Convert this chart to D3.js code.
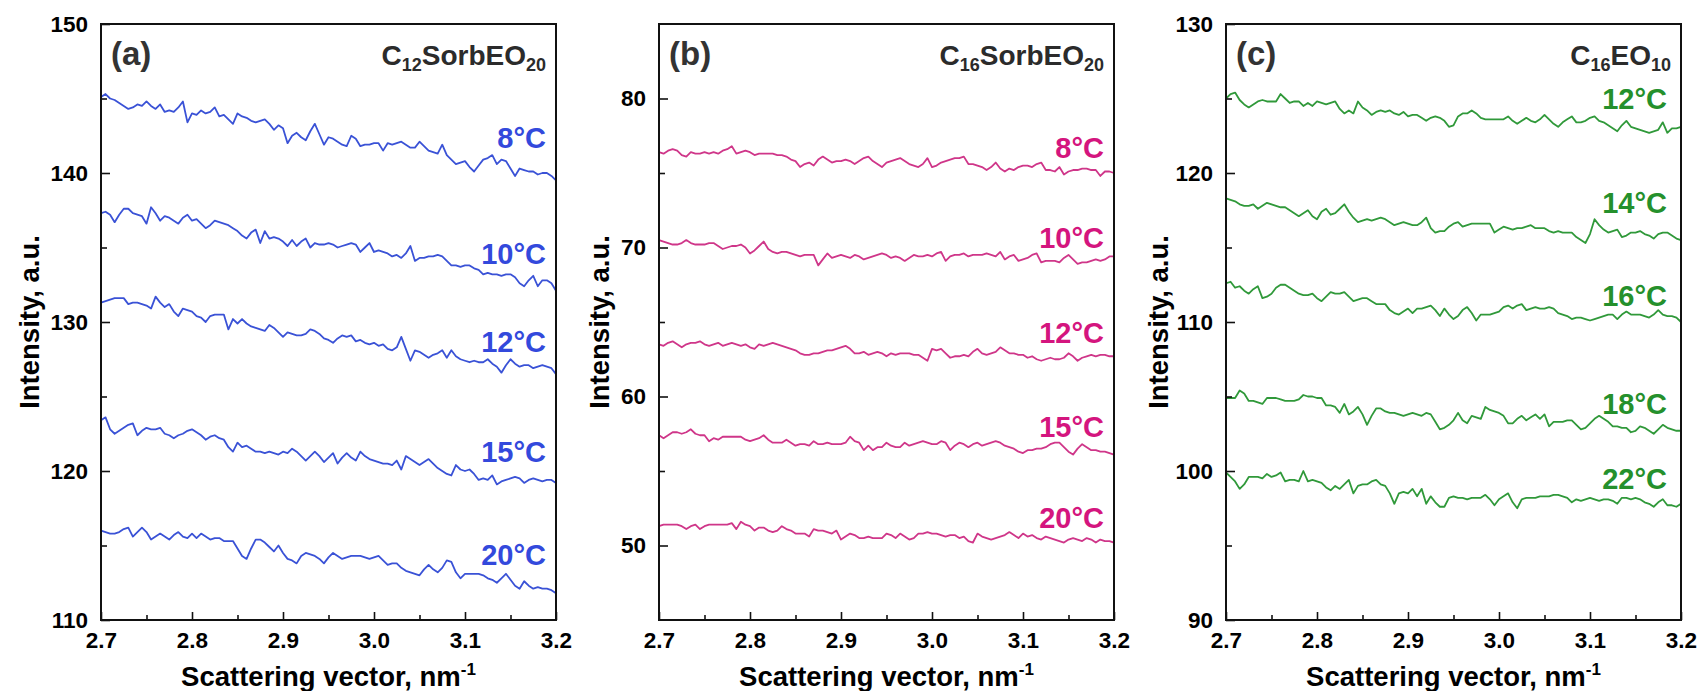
<!DOCTYPE html>
<html>
<head>
<meta charset="utf-8">
<script src="https://cdn.jsdelivr.net/npm/d3@7"></script>
<style>
  html, body { margin: 0; padding: 0; background: #fff; }
  svg text { font-family: "Liberation Sans", Arial, Helvetica, sans-serif; }
</style>
</head>
<body>
<svg id="chart" width="1701" height="691"></svg>
<script>
// Scattering vector grid, nm^-1
const scatteringVector = [
  2.700,2.705,2.710,2.715,2.720,2.725,2.730,2.735,2.740,2.745,
  2.750,2.755,2.760,2.765,2.770,2.775,2.780,2.785,2.790,2.795,
  2.800,2.805,2.810,2.815,2.820,2.825,2.830,2.835,2.840,2.845,
  2.850,2.855,2.860,2.865,2.870,2.875,2.880,2.885,2.890,2.895,
  2.900,2.905,2.910,2.915,2.920,2.925,2.930,2.935,2.940,2.945,
  2.950,2.955,2.960,2.965,2.970,2.975,2.980,2.985,2.990,2.995,
  3.000,3.005,3.010,3.015,3.020,3.025,3.030,3.035,3.040,3.045,
  3.050,3.055,3.060,3.065,3.070,3.075,3.080,3.085,3.090,3.095,
  3.100,3.105,3.110,3.115,3.120,3.125,3.130,3.135,3.140,3.145,
  3.150,3.155,3.160,3.165,3.170,3.175,3.180,3.185,3.190,3.195,
  3.200
];

// Axis ticks
const xTicks = [2.7, 2.8, 2.9, 3.0, 3.1, 3.2];
const xMinorTicks = [2.75, 2.85, 2.95, 3.05, 3.15];
const yTicksA = [110, 120, 130, 140, 150];
const yMinorA = [115, 125, 135, 145];
const yTicksB = [50, 60, 70, 80];
const yMinorB = [55, 65, 75];
const yTicksC = [90, 100, 110, 120, 130];
const yMinorC = [95, 105, 115, 125];

// (a) C12SorbEO20
const tempsA = ["8°C", "10°C", "12°C", "15°C", "20°C"];
const intensityA8 = [
  145.1,145.3,145.0,144.9,144.7,144.5,144.3,144.4,144.6,144.5,
  144.8,144.5,144.3,144.6,144.1,144.2,144.1,144.4,144.8,143.4,
  144.0,143.9,144.2,144.0,144.1,144.4,143.8,143.9,143.6,143.3,
  144.0,143.8,143.7,143.5,143.4,143.5,143.6,143.3,142.9,143.2,
  143.0,142.0,142.5,142.7,142.4,142.2,142.8,143.3,142.6,141.9,
  142.4,142.3,142.1,141.9,141.8,142.5,142.3,141.8,141.9,141.9,
  142.0,142.0,141.5,142.0,141.9,142.0,142.1,141.9,141.7,141.7,
  142.1,141.8,141.5,141.4,141.3,141.9,141.2,140.9,140.6,140.7,
  140.8,140.4,140.1,140.5,140.9,141.0,141.2,140.6,140.9,140.8,
  140.3,139.8,140.3,140.2,140.1,140.1,139.9,140.0,140.0,139.8,
  139.5
];
const intensityA10 = [
  137.3,137.4,137.2,136.7,137.2,137.6,137.6,137.3,137.2,137.1,
  136.6,137.7,137.3,136.8,137.1,137.0,136.8,136.6,137.0,137.2,
  136.8,136.9,136.6,136.3,136.5,136.8,136.7,136.6,136.5,136.3,
  136.1,135.8,135.6,136.0,136.2,135.3,136.1,135.6,135.7,135.6,
  135.4,135.1,135.5,135.1,135.4,135.6,135.0,135.3,135.2,135.2,
  135.3,135.2,135.0,135.1,135.2,135.3,135.2,134.7,135.0,135.3,
  134.7,134.8,134.7,134.6,134.4,134.5,134.3,134.6,135.1,134.1,
  134.3,134.3,134.4,134.4,134.5,134.4,134.1,133.8,133.8,133.7,
  133.8,133.8,133.6,133.5,133.2,133.3,133.2,133.2,133.1,133.2,
  133.2,133.0,132.6,132.4,132.8,133.1,132.4,132.8,132.8,132.6,
  132.1
];
const intensityA12 = [
  131.3,131.4,131.5,131.6,131.6,131.6,131.2,131.3,131.3,131.2,
  131.1,130.9,131.7,131.3,131.0,131.2,130.7,130.4,130.9,130.8,
  130.7,130.4,130.3,130.0,130.4,130.5,130.5,130.5,129.5,130.2,
  129.9,130.2,129.9,129.7,129.6,129.5,129.4,129.8,129.6,129.3,
  129.0,129.3,129.2,129.1,129.1,129.2,129.5,129.4,129.2,128.9,
  128.8,128.6,128.9,129.1,129.0,129.1,128.7,128.8,128.6,128.5,
  128.6,128.4,128.5,128.2,128.1,128.3,129.0,128.2,127.4,128.1,
  128.0,127.8,127.6,127.8,127.9,128.1,127.6,128.1,127.7,127.5,
  127.4,127.3,127.4,127.3,127.3,127.5,127.2,127.0,126.6,127.1,
  127.5,127.2,127.0,127.1,127.1,126.9,127.0,127.1,127.0,126.9,
  126.5
];
const intensityA15 = [
  123.4,123.6,122.8,122.5,122.7,122.9,123.1,123.2,122.4,122.7,
  122.9,122.8,122.8,122.9,122.5,122.4,122.2,122.4,122.5,122.7,
  122.8,122.6,122.4,122.1,122.3,122.4,122.2,122.1,121.6,121.3,
  121.9,121.6,121.7,121.5,121.3,121.3,121.2,121.3,121.2,121.1,
  121.3,121.2,121.5,121.3,121.0,120.7,121.0,121.3,121.0,120.6,
  120.9,121.2,120.5,120.9,121.2,120.9,120.7,121.3,121.0,120.8,
  120.7,120.6,120.5,120.5,120.4,120.7,120.1,121.0,120.8,120.6,
  120.4,120.6,120.8,120.5,120.2,120.0,119.8,119.7,120.4,120.1,
  120.0,120.1,119.8,119.4,119.5,119.4,119.7,119.1,119.3,119.4,
  119.5,119.6,119.5,119.2,119.4,119.5,119.4,119.3,119.4,119.4,
  119.2
];
const intensityA20 = [
  116.0,115.9,115.8,115.8,115.9,116.1,116.2,115.6,115.9,116.2,
  115.9,115.4,115.6,115.8,115.6,115.4,115.7,115.9,115.6,115.5,
  115.8,115.5,115.8,115.6,115.4,115.5,115.5,115.3,115.3,115.3,
  114.8,114.3,114.1,114.8,115.4,115.4,115.2,114.9,114.6,115.0,
  114.5,114.1,114.0,113.8,114.3,114.5,114.4,114.3,114.1,113.8,
  114.2,114.5,114.3,114.1,114.2,114.3,114.3,114.3,114.2,114.1,
  114.2,114.3,114.0,113.7,113.8,113.8,113.5,113.3,113.2,113.1,
  113.0,113.4,113.7,113.4,113.2,113.5,114.0,113.9,113.2,112.8,
  113.1,113.1,113.1,113.1,113.0,112.8,112.7,112.5,112.8,113.1,
  112.7,112.3,112.1,112.6,112.3,112.1,112.2,112.1,112.1,112.0,
  111.8
];

// (b) C16SorbEO20
const tempsB = ["8°C", "10°C", "12°C", "15°C", "20°C"];
const intensityB8 = [
  76.4,76.3,76.5,76.6,76.5,76.2,76.1,76.4,76.3,76.3,
  76.4,76.3,76.4,76.3,76.5,76.6,76.8,76.3,76.4,76.5,
  76.4,76.2,76.3,76.3,76.3,76.3,76.2,76.2,76.1,75.9,
  75.8,75.4,75.6,75.7,75.5,75.9,76.1,75.9,75.7,75.8,
  75.8,75.9,75.8,75.6,75.8,76.0,76.1,75.8,75.6,75.4,
  75.7,75.8,75.9,76.0,75.8,75.6,75.5,75.4,75.6,76.0,
  75.4,75.5,75.7,75.8,75.9,76.0,76.0,76.1,75.6,75.6,
  75.5,75.4,75.2,75.4,75.7,75.3,75.1,75.3,75.2,75.4,
  75.5,75.5,75.4,75.6,75.7,75.2,75.2,75.1,75.4,74.9,
  75.1,75.2,75.2,75.3,75.3,75.2,75.2,74.8,75.1,75.1,
  75.0
];
const intensityB10 = [
  70.5,70.4,70.3,70.2,70.2,70.3,70.5,70.3,70.2,70.2,
  70.2,70.3,70.3,70.1,69.9,70.0,70.1,70.1,70.2,70.0,
  69.6,69.8,70.1,70.4,69.9,69.7,69.6,69.7,69.7,69.6,
  69.5,69.4,69.5,69.5,69.5,68.8,69.2,69.6,69.3,69.4,
  69.5,69.4,69.3,69.5,69.4,69.2,69.3,69.4,69.5,69.6,
  69.5,69.3,69.4,69.3,69.1,69.3,69.5,69.4,69.4,69.5,
  69.4,69.6,69.7,69.1,69.4,69.5,69.5,69.6,69.4,69.5,
  69.5,69.5,69.6,69.5,69.4,69.7,69.2,69.4,69.5,69.1,
  69.2,69.3,69.5,69.6,69.0,69.1,69.1,69.1,69.0,69.3,
  69.5,69.2,68.9,69.0,69.0,69.1,69.2,69.1,69.2,69.4,
  69.4
];
const intensityB12 = [
  63.5,63.4,63.6,63.7,63.5,63.3,63.5,63.6,63.6,63.7,
  63.5,63.4,63.5,63.6,63.4,63.5,63.6,63.5,63.4,63.5,
  63.3,63.2,63.5,63.4,63.5,63.6,63.5,63.4,63.3,63.2,
  63.1,62.9,62.8,62.8,62.9,62.9,63.0,63.1,63.1,63.2,
  63.3,63.4,63.2,62.9,62.9,63.0,62.8,62.9,63.0,62.9,
  62.7,62.9,62.8,62.9,62.9,62.9,62.8,62.8,62.6,62.4,
  63.2,63.1,63.2,62.9,62.6,62.7,62.7,62.8,62.7,63.0,
  63.2,62.9,62.8,62.9,63.0,63.3,63.1,62.9,62.9,62.8,
  62.8,62.6,62.7,62.5,62.4,62.5,62.6,62.5,62.5,62.6,
  62.9,62.7,62.4,62.6,62.7,62.8,62.7,62.8,62.8,62.7,
  62.7
];
const intensityB15 = [
  57.4,57.2,57.4,57.6,57.6,57.5,57.6,57.8,57.5,57.4,
  57.4,57.0,57.2,57.1,57.3,57.3,57.3,57.3,57.3,57.1,
  57.0,57.1,57.2,57.4,57.1,56.9,56.9,56.9,57.1,56.9,
  56.7,56.8,56.8,56.7,57.0,56.8,56.8,56.9,56.8,56.8,
  56.8,56.9,57.3,57.0,56.9,56.4,56.7,56.4,56.6,56.6,
  56.9,56.7,56.6,56.6,56.9,56.7,56.8,56.9,57.0,56.9,
  56.8,56.8,57.0,56.9,56.4,56.7,56.9,56.8,56.6,56.8,
  56.9,56.7,56.8,56.9,57.0,56.9,56.7,56.6,56.5,56.3,
  56.2,56.4,56.4,56.5,56.5,56.6,56.8,56.9,56.9,56.6,
  56.3,56.1,56.5,56.8,56.6,56.4,56.4,56.3,56.3,56.2,
  56.1
];
const intensityB20 = [
  51.3,51.4,51.4,51.4,51.4,51.3,51.1,51.3,51.4,51.1,
  51.3,51.4,51.4,51.4,51.4,51.4,51.5,51.1,51.6,51.4,
  51.3,51.0,51.2,51.2,51.0,50.9,51.0,51.3,51.1,51.0,
  50.8,50.8,50.8,50.6,51.1,51.0,51.0,50.9,50.8,51.0,
  50.4,50.6,50.8,50.7,50.5,50.5,50.6,50.5,50.5,50.5,
  50.8,50.7,50.5,50.8,50.6,50.4,50.5,50.8,50.8,50.9,
  50.8,50.8,50.7,50.6,50.7,50.7,50.5,50.6,50.3,50.2,
  50.8,50.6,50.5,50.4,50.5,50.6,50.7,50.9,50.7,50.5,
  50.8,50.6,50.7,50.5,50.4,50.6,50.5,50.4,50.3,50.2,
  50.4,50.5,50.4,50.3,50.5,50.4,50.2,50.4,50.3,50.3,
  50.2
];

// (c) C16EO10
const tempsC = ["12°C", "14°C", "16°C", "18°C", "22°C"];
const intensityC12 = [
  125.0,125.3,125.4,124.9,124.6,124.4,124.6,124.8,124.9,124.8,
  124.8,124.8,125.3,125.0,124.7,124.8,124.8,124.5,124.7,124.5,
  124.8,124.7,124.6,124.7,124.8,124.3,124.0,124.2,124.0,124.8,
  124.4,124.2,123.9,124.1,124.2,124.1,124.2,124.0,123.9,124.1,
  123.8,123.9,123.9,123.7,123.5,123.7,123.8,123.7,123.5,123.1,
  123.2,123.8,124.0,124.0,124.2,124.0,123.7,123.6,123.6,123.6,
  123.6,123.6,123.8,123.5,123.3,123.5,123.7,123.5,123.4,123.6,
  123.9,123.6,123.3,123.1,123.4,123.6,123.8,123.4,123.4,123.5,
  123.7,123.8,123.5,123.4,123.2,123.0,122.8,123.2,123.5,123.1,
  123.0,122.9,122.8,122.7,122.8,122.9,123.4,122.7,123.0,123.0,
  123.1
];
const intensityC14 = [
  118.3,118.2,118.1,117.9,117.8,117.8,117.9,117.6,117.8,118.0,
  117.9,117.8,117.7,117.7,117.5,117.3,117.1,117.3,117.5,117.1,
  116.9,117.4,117.6,117.2,117.3,117.6,117.9,117.4,117.0,116.7,
  116.8,116.9,116.8,116.9,117.0,116.9,116.7,116.5,116.6,116.7,
  116.6,116.5,116.5,116.7,117.0,116.3,116.0,116.1,116.1,116.4,
  116.6,116.7,116.4,116.5,116.6,116.6,116.6,116.6,116.6,116.0,
  116.2,116.4,116.3,116.2,116.3,116.3,116.4,116.5,116.3,116.3,
  116.3,116.1,116.0,116.1,116.0,116.0,116.0,115.7,115.5,115.3,
  115.9,116.9,116.5,116.2,116.0,116.1,116.2,115.7,115.8,116.0,
  116.0,116.1,115.9,115.8,115.6,115.9,116.0,116.0,115.8,115.6,
  115.5
];
const intensityC16 = [
  112.6,112.7,112.3,112.4,112.1,111.9,112.2,112.4,111.6,111.7,
  111.9,112.3,112.5,112.5,112.3,112.1,111.9,111.8,111.8,111.9,
  111.6,111.4,111.7,112.0,111.9,111.9,112.0,111.7,111.4,111.5,
  111.6,111.6,111.4,111.2,111.2,111.2,110.8,110.6,110.5,110.7,
  110.9,110.6,110.9,110.9,111.0,111.1,110.8,110.4,110.9,110.5,
  110.2,110.4,110.8,111.0,110.6,110.1,110.5,110.5,110.5,110.6,
  110.7,111.0,111.1,110.9,111.1,111.2,110.8,110.9,111.0,110.9,
  110.9,111.0,110.9,110.6,110.5,110.4,110.2,110.3,110.3,110.2,
  110.1,110.2,110.3,110.4,110.5,110.5,110.2,110.5,110.7,110.5,
  110.5,110.5,110.4,110.3,110.5,110.8,110.5,110.4,110.4,110.3,
  110.0
];
const intensityC18 = [
  104.9,104.9,104.9,105.4,105.2,104.7,104.7,104.6,104.5,104.9,
  104.9,104.9,104.8,104.7,104.7,104.7,104.8,105.1,105.0,105.0,
  104.9,104.9,104.4,104.4,104.3,103.9,104.5,103.8,104.0,104.3,
  103.8,103.1,103.7,104.2,104.2,104.0,103.9,103.9,103.8,103.7,
  103.8,103.9,103.8,103.7,103.9,103.8,103.3,102.8,102.9,103.1,
  103.4,103.9,103.4,103.2,103.7,103.6,103.5,104.3,104.1,104.0,
  103.9,103.7,103.2,103.2,103.5,103.7,103.4,103.6,103.8,103.5,
  103.8,103.0,103.3,103.3,103.3,103.4,103.4,103.1,102.8,102.9,
  103.2,103.5,103.7,103.5,103.3,103.0,103.0,102.9,102.9,102.6,
  102.7,103.0,102.9,102.7,102.5,102.8,103.1,102.9,102.8,102.7,
  102.7
];
const intensityC22 = [
  99.9,99.6,99.3,98.8,99.1,99.6,99.6,99.6,99.5,99.8,
  99.6,99.7,99.9,99.3,99.4,99.4,99.3,100.0,99.3,99.4,
  99.3,99.2,98.9,98.7,99.0,98.8,99.1,99.4,98.5,99.0,
  99.1,99.1,99.3,99.4,99.1,99.0,98.5,97.8,98.5,98.6,
  98.5,98.8,98.3,98.8,97.8,98.3,97.9,97.6,97.6,98.2,
  98.3,98.2,98.2,98.1,98.2,98.2,98.2,98.4,98.1,97.7,
  98.1,98.3,98.5,97.9,97.5,98.1,98.2,98.2,98.2,98.3,
  98.3,98.3,98.4,98.4,98.3,98.2,97.9,98.1,98.0,98.1,
  98.2,98.1,98.0,98.1,98.1,98.0,97.8,98.2,98.2,98.1,
  98.2,98.1,97.9,97.8,97.6,97.9,98.1,97.7,97.7,97.6,
  97.8
];

// Panel layout and styling
const plotTop = 24, plotBottom = 620, plotWidth = 455;
const fontFamily = '"Liberation Sans", Arial, Helvetica, sans-serif';

const panels = [
  {
    tag: "(a)", left: 101, yDomain: [110, 150], yTicks: yTicksA, yMinor: yMinorA,
    compound: [["C", 0], ["12", 1], ["SorbEO", 0], ["20", 1]],
    temps: tempsA, series: [intensityA8, intensityA10, intensityA12, intensityA15, intensityA20],
    labelLevels: [141.65, 133.9, 128.0, 120.6, 113.7], labelInset: 10,
    lineColor: "#3a52d6", textColor: "#3349dc", titleX: 29.5
  },
  {
    tag: "(b)", left: 659, yDomain: [45, 85], yTicks: yTicksB, yMinor: yMinorB,
    compound: [["C", 0], ["16", 1], ["SorbEO", 0], ["20", 1]],
    temps: tempsB, series: [intensityB8, intensityB10, intensityB12, intensityB15, intensityB20],
    labelLevels: [76.0, 69.96, 63.6, 57.26, 51.2], labelInset: 10,
    lineColor: "#cf3689", textColor: "#d4157e", titleX: 599
  },
  {
    tag: "(c)", left: 1226, yDomain: [90, 130], yTicks: yTicksC, yMinor: yMinorC,
    compound: [["C", 0], ["16", 1], ["EO", 0], ["10", 1]],
    temps: tempsC, series: [intensityC12, intensityC14, intensityC16, intensityC18, intensityC22],
    labelLevels: [124.3, 117.3, 111.1, 103.8, 98.8], labelInset: 14,
    lineColor: "#30993a", textColor: "#25902c", titleX: 1158
  }
];

const svg = d3.select("#chart");
svg.append("rect").attr("width", 1701).attr("height", 691).attr("fill", "#fff");

panels.forEach(p => {
  const right = p.left + plotWidth;
  const x = d3.scaleLinear().domain([2.7, 3.2]).range([p.left, right]);
  const y = d3.scaleLinear().domain(p.yDomain).range([plotBottom, plotTop]);
  const g = svg.append("g");

  // curves
  const line = d3.line()
    .x((d, i) => x(scatteringVector[i]))
    .y(d => y(d));
  p.series.forEach(vals => {
    g.append("path")
      .datum(vals)
      .attr("d", line)
      .attr("fill", "none")
      .attr("stroke", p.lineColor)
      .attr("stroke-width", 1.8)
      .attr("stroke-linejoin", "round");
  });

  // bottom axis (ticks pointing inward)
  g.append("g")
    .attr("transform", `translate(0,${plotBottom})`)
    .call(d3.axisBottom(x).tickValues(xTicks).tickFormat(d3.format(".1f"))
      .tickSize(-8).tickPadding(12));
  g.append("g")
    .attr("transform", `translate(0,${plotBottom})`)
    .call(d3.axisBottom(x).tickValues(xMinorTicks).tickFormat("").tickSize(-5));

  // left axis
  g.append("g")
    .attr("transform", `translate(${p.left},0)`)
    .call(d3.axisLeft(y).tickValues(p.yTicks).tickFormat(d3.format("d"))
      .tickSize(-9).tickPadding(13));
  g.append("g")
    .attr("transform", `translate(${p.left},0)`)
    .call(d3.axisLeft(y).tickValues(p.yMinor).tickFormat("").tickSize(-6));

  g.selectAll(".domain").remove();
  g.selectAll(".tick line").attr("stroke", "#111").attr("stroke-width", 1.6);
  g.selectAll(".tick text")
    .attr("fill", "#000")
    .attr("font-family", fontFamily)
    .attr("font-size", 22.5)
    .attr("font-weight", "bold");

  // frame
  g.append("rect")
    .attr("x", p.left).attr("y", plotTop)
    .attr("width", plotWidth).attr("height", plotBottom - plotTop)
    .attr("fill", "none").attr("stroke", "#111").attr("stroke-width", 2);

  // panel tag
  g.append("text")
    .attr("x", p.left + 10).attr("y", 65)
    .attr("font-size", 33).attr("font-weight", "bold").attr("fill", "#333")
    .text(p.tag);

  // compound name with subscripts
  const comp = g.append("text")
    .attr("x", right - 10).attr("y", 65)
    .attr("text-anchor", "end")
    .attr("font-size", 28).attr("font-weight", "bold").attr("fill", "#2b2b2b");
  let shifted = false;
  p.compound.forEach(([t, sub]) => {
    const ts = comp.append("tspan").text(t);
    if (sub) { ts.attr("font-size", 18).attr("dy", shifted ? 0 : 6); shifted = true; }
    else { ts.attr("dy", shifted ? -6 : 0); shifted = false; }
  });

  // temperature labels
  p.temps.forEach((t, i) => {
    g.append("text")
      .attr("x", right - p.labelInset)
      .attr("y", y(p.labelLevels[i]))
      .attr("text-anchor", "end")
      .attr("font-size", 29).attr("font-weight", "bold")
      .attr("fill", p.textColor)
      .text(t);
  });

  // axis titles
  const xt = g.append("text")
    .attr("x", (p.left + right) / 2).attr("y", 686)
    .attr("text-anchor", "middle")
    .attr("font-size", 27.5).attr("font-weight", "bold").attr("fill", "#000");
  xt.append("tspan").text("Scattering vector, nm");
  xt.append("tspan").attr("font-size", 17).attr("dy", -11).text("-1");

  g.append("text")
    .attr("transform", `translate(${p.titleX + 9.8},${(plotTop + plotBottom) / 2}) rotate(-90)`)
    .attr("text-anchor", "middle")
    .attr("font-size", 27.5).attr("font-weight", "bold").attr("fill", "#000")
    .text("Intensity, a.u.");
});
</script>
</body>
</html>
